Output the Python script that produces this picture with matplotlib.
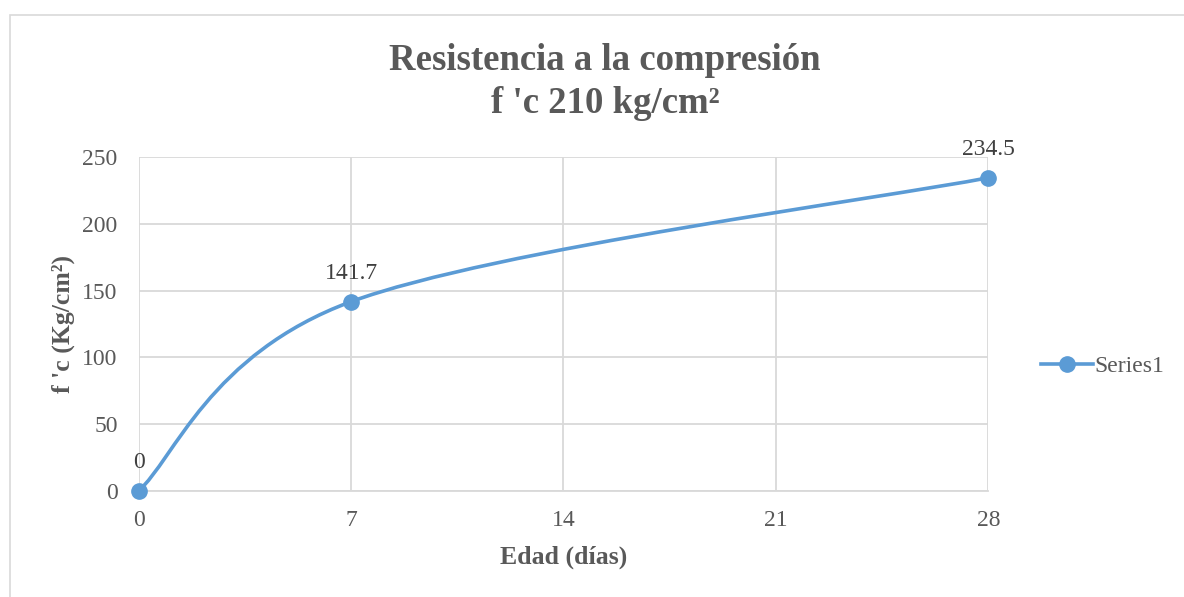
import matplotlib.pyplot as plt
from matplotlib.path import Path
from matplotlib.patches import PathPatch, Rectangle
from matplotlib.lines import Line2D
import numpy as np

# datos
edad = [0, 7, 28]
fc = [0, 141.7, 234.5]
etiquetas = ["0", "141.7", "234.5"]
xticks = [0, 7, 14, 21, 28]
yticks = [0, 50, 100, 150, 200, 250]

AZUL = "#5b9bd5"
GRIS = "#595959"
GRID = "#d9d9d9"

plt.rcParams['font.family'] = ['Liberation Serif', 'DejaVu Serif']

fig = plt.figure(figsize=(11.84, 5.97), dpi=100)
ax = fig.add_axes([138.5 / 1184, 1 - 491 / 597, 850 / 1184, 334 / 597])

# borde del area del grafico
fig.patches.append(Rectangle((10 / 1184, -0.05), 1.1, 1 - 15 / 597 + 0.05,
                             transform=fig.transFigure, fill=False,
                             edgecolor=GRID, linewidth=1.2))


def curva_suave(xs, ys):
    # suavizado tipo Excel (Catmull-Rom -> Bezier)
    pts = np.column_stack([xs, ys]).astype(float)
    n = len(pts)
    verts = [pts[0]]
    codes = [Path.MOVETO]
    for i in range(n - 1):
        p0 = pts[i - 1] if i > 0 else pts[i]
        p1 = pts[i]
        p2 = pts[i + 1]
        p3 = pts[i + 2] if i + 2 < n else pts[i + 1]
        c1 = p1 + (p2 - p0) / 6
        c2 = p2 - (p3 - p1) / 6
        verts += [c1, c2, p2]
        codes += [Path.CURVE4] * 3
    return Path(verts, codes)


ax.add_patch(PathPatch(curva_suave(edad, fc), facecolor="none", edgecolor=AZUL,
                       linewidth=2.6, capstyle="round", zorder=3, clip_on=False))
ax.plot(edad, fc, "o", color=AZUL, markersize=11, zorder=4, clip_on=False)

for x, y, t in zip(edad, fc, etiquetas):
    ax.annotate(t, (x, y), xytext=(0, 13), textcoords="offset points",
                ha="center", va="bottom", fontsize=17, color="#404040")

ax.set_xlim(0, 28)
ax.set_ylim(0, 250)
ax.set_xticks(xticks)
ax.set_yticks(yticks)
ax.grid(True, color=GRID, linewidth=1.3)
ax.set_axisbelow(True)
for s in ax.spines.values():
    s.set_visible(False)
ax.spines["bottom"].set_visible(True)
ax.spines["bottom"].set_color(GRID)
ax.spines["bottom"].set_linewidth(1.3)
ax.tick_params(length=0, labelsize=17, labelcolor=GRIS, pad=14)
ax.tick_params(axis="y", pad=15)

ax.set_xlabel("Edad (días)", fontsize=18.5, fontweight="bold", color=GRIS, labelpad=10)
ax.set_ylabel("f 'c (Kg/cm²)", fontsize=18.5, fontweight="bold", color=GRIS, labelpad=5)

fig.text(605 / 1184, 1 - 82 / 597, "Resistencia a la compresión\nf 'c 210 kg/cm²",
         ha="center", va="center", fontsize=26.5, fontweight="bold", color=GRIS,
         linespacing=1.32)

leyenda = Line2D([0], [0], color=AZUL, linewidth=2.6, marker="o", markersize=11)
ax.legend([leyenda], ["Series1"], loc="center left", bbox_to_anchor=(1.037, 0.374),
          frameon=False, fontsize=17, labelcolor=GRIS, handlelength=2.2,
          handletextpad=0.05)

fig.savefig("out.png", dpi=100)
